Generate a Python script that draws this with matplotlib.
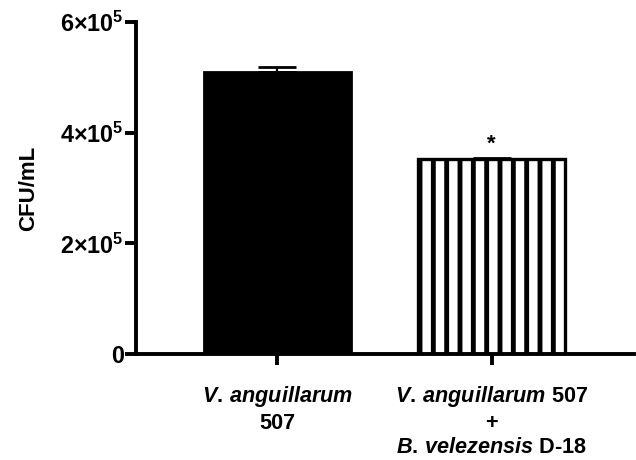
import numpy as np
import matplotlib
matplotlib.use("Agg")
import matplotlib.pyplot as plt

plt.rcParams['font.family'] = ['Liberation Sans', 'DejaVu Sans']
plt.rcParams['font.weight'] = 'bold'
plt.rcParams['mathtext.fontset'] = 'custom'
plt.rcParams['mathtext.rm'] = 'Liberation Sans:bold'
plt.rcParams['mathtext.it'] = 'Liberation Sans:italic:bold'
plt.rcParams['mathtext.bf'] = 'Liberation Sans:bold'
plt.rcParams['hatch.linewidth'] = 4.4

groups = [r'$\mathit{V.\,anguillarum}$' + '\n507',
          r'$\mathit{V.\,anguillarum}$ 507' + '\n+\n' + r'$\mathit{B.\,velezensis}$ D-18']
means = [5.10e5, 3.52e5]
errs = [0.09e5, 0.03e5]
yticks = [0, 2e5, 4e5, 6e5]
yticklabels = ['0', r'$2{\times}10^5$', r'$4{\times}10^5$', r'$6{\times}10^5$']
signif = ['', '*']

fig = plt.figure(figsize=(7.95, 5.75), dpi=80)
ax = fig.add_axes([0.2138, 0.2304, 0.7832, 0.7218])

x = np.arange(len(means))
ax.bar(x[0], means[0], width=0.69, color='black', edgecolor='black', linewidth=2.5)
ax.bar(x[1], means[1], width=0.69, color='white', edgecolor='black', linewidth=3, hatch='|')
ax.errorbar(x, means, yerr=[np.zeros(2), errs], fmt='none', ecolor='black',
            elinewidth=2, capsize=17, capthick=2.5)

for xi, m, e, s in zip(x, means, errs, signif):
    if s:
        ax.text(xi, m + e + 0.06e5, s, ha='center', va='bottom', fontsize=20, fontweight='bold')

ax.set_xlim(-0.661, 1.666)
ax.set_ylim(0, 6e5)
ax.set_yticks(yticks)
ax.set_yticklabels(yticklabels, fontsize=21)
ax.set_xticks(x)
ax.set_xticklabels(groups, fontsize=19.5, linespacing=1.22)
ax.set_ylabel('CFU/mL', fontsize=20, fontweight='bold', labelpad=19)

for side in ['top', 'right']:
    ax.spines[side].set_visible(False)
for side in ['left', 'bottom']:
    ax.spines[side].set_linewidth(3.5)
ax.tick_params(axis='both', width=3.5, length=10, direction='out')
ax.tick_params(axis='x', pad=17)
ax.tick_params(axis='y', pad=1)

fig.savefig('out.png', dpi=80)
